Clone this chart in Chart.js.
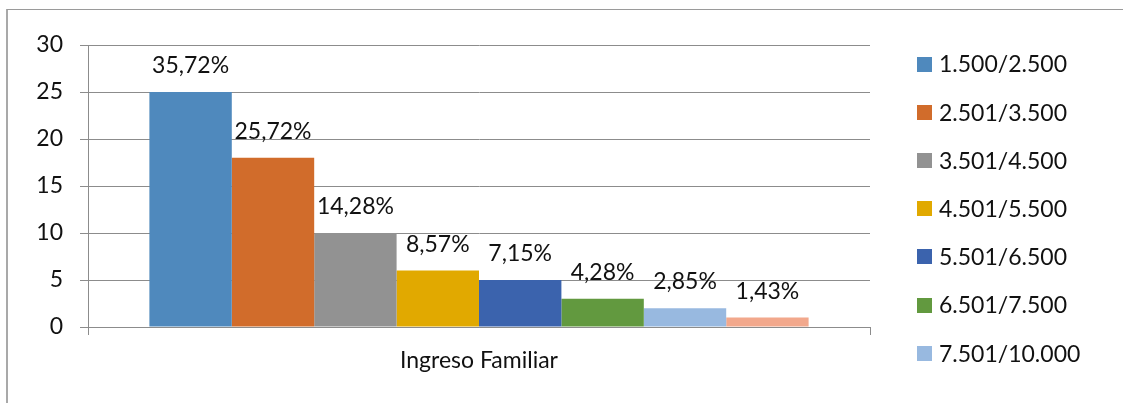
<!DOCTYPE html>
<html>
<head>
<meta charset="utf-8">
<script src="https://cdn.jsdelivr.net/npm/chart.js@4/dist/chart.umd.min.js"></script>
<style>
  html, body { margin: 0; padding: 0; background: #ffffff; }
  #wrap { position: relative; width: 1123px; height: 403px; }
</style>
</head>
<body>
<div id="wrap"><canvas id="c" width="1123" height="403"></canvas></div>
<script>
// ---- data ----
const categories = ["Ingreso Familiar"];
const seriesNames = ["1.500/2.500", "2.501/3.500", "3.501/4.500", "4.501/5.500", "5.501/6.500", "6.501/7.500", "7.501/10.000", "10.001/más"];
const seriesValues = [25, 18, 10, 6, 5, 3, 2, 1];
const seriesLabels = ["35,72%", "25,72%", "14,28%", "8,57%", "7,15%", "4,28%", "2,85%", "1,43%"];
const seriesColors = ["#4F89BD", "#D16C2B", "#929292", "#E1A900", "#3B63AD", "#62993F", "#98B9E0", "#F2A88C"];
const yTicks = [0, 5, 10, 15, 20, 25, 30];
const legendShown = 7;

const FONT = "Lato, 'Noto Sans', sans-serif";
const FS = 23;

const datasets = seriesNames.map((name, i) => ({
  label: name,
  data: [seriesValues[i]],
  backgroundColor: seriesColors[i],
  borderWidth: 0,
  categoryPercentage: 0.843,
  barPercentage: 1.0
}));

const framePlugin = {
  id: 'frame',
  beforeDraw(chart) {
    const ctx = chart.ctx;
    ctx.save();
    ctx.fillStyle = '#ffffff';
    ctx.fillRect(0, 0, chart.width, chart.height);
    ctx.strokeStyle = '#a9a9a9';
    ctx.lineWidth = 2;
    ctx.beginPath();
    ctx.moveTo(7, chart.height);
    ctx.lineTo(7, 9);
    ctx.stroke();
    ctx.lineWidth = 1;
    ctx.strokeStyle = '#9a9a9a';
    ctx.beginPath();
    ctx.moveTo(7, 9.5);
    ctx.lineTo(chart.width, 9.5);
    ctx.stroke();
    ctx.restore();
  }
};

const labelPlugin = {
  id: 'barLabels',
  afterDatasetsDraw(chart) {
    const ctx = chart.ctx;
    ctx.save();
    ctx.font = FS + 'px ' + FONT;
    ctx.fillStyle = '#111111';
    ctx.textAlign = 'center';
    ctx.textBaseline = 'alphabetic';
    chart.data.datasets.forEach((ds, i) => {
      const meta = chart.getDatasetMeta(i);
      meta.data.forEach(bar => {
        ctx.fillText(seriesLabels[i], bar.x, bar.y - 19);
      });
    });
    ctx.restore();
  }
};

const legendPlugin = {
  id: 'sideLegend',
  afterDraw(chart) {
    const ctx = chart.ctx;
    ctx.save();
    ctx.font = FS + 'px ' + FONT;
    ctx.textAlign = 'left';
    ctx.textBaseline = 'middle';
    const x0 = 917, y0 = 64, step = 48.2, box = 15;
    chart.data.datasets.slice(0, legendShown).forEach((ds, i) => {
      const yc = y0 + i * step;
      ctx.fillStyle = ds.backgroundColor;
      ctx.fillRect(x0, Math.round(yc - box / 2), box, box);
      ctx.fillStyle = '#111111';
      ctx.fillText(ds.label, x0 + 22, yc + 1);
    });
    ctx.restore();
  }
};

new Chart(document.getElementById('c'), {
  type: 'bar',
  data: { labels: categories, datasets: datasets },
  options: {
    responsive: false,
    devicePixelRatio: 1,
    animation: false,
    layout: { padding: { left: 0, right: 253, top: 45, bottom: 0 } },
    plugins: {
      legend: { display: false },
      tooltip: { enabled: false }
    },
    scales: {
      x: {
        offset: true,
        grid: { display: true, drawOnChartArea: false, drawTicks: true, tickLength: 8, color: '#8c8c8c', offset: true },
        border: { display: true, color: '#8c8c8c' },
        ticks: { color: '#111111', font: { family: FONT, size: FS }, padding: 12 },
        afterFit(scale) { scale.height = 76; }
      },
      y: {
        min: 0,
        max: 30,
        afterBuildTicks(scale) { scale.ticks = yTicks.map(v => ({ value: v })); },
        grid: { color: '#8c8c8c', tickLength: 8, drawTicks: true },
        border: { display: true, color: '#8c8c8c' },
        ticks: { color: '#111111', font: { family: FONT, size: FS }, padding: 17 },
        afterFit(scale) { scale.width = 88; }
      }
    }
  },
  plugins: [framePlugin, labelPlugin, legendPlugin]
});
</script>
</body>
</html>
